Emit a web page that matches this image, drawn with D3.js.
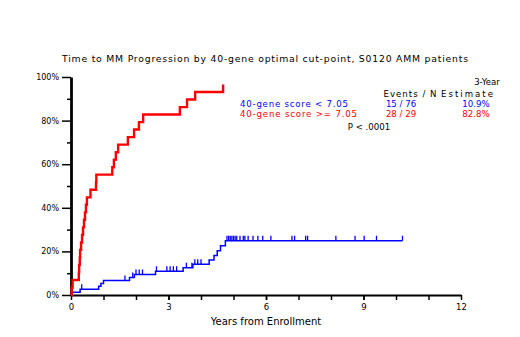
<!DOCTYPE html>
<html>
<head>
<meta charset="utf-8">
<script src="https://cdn.jsdelivr.net/npm/d3@7"></script>
<style>
  body { margin: 0; background: #fff; }
  text { font-family: "DejaVu Sans", sans-serif; }
</style>
</head>
<body>
<script>
const w = 520, h = 337;
const margin = { left: 71, right: 59, top: 77, bottom: 42 };

// cumulative progression steps: [years, percent]
const lowSteps = [[0.03, 1.3], [0.28, 2.6], [0.85, 4.0], [0.92, 5.3], [1.0, 6.6], [1.8, 8.0], [1.95, 9.4],
    [2.6, 10.9], [3.45, 12.5], [3.75, 14.1], [4.25, 16.0], [4.4, 18.1], [4.5, 20.3], [4.6, 22.6], [4.75, 24.9]];
const lowEnd = 10.2;
const lowCensor = [0.33, 1.66, 1.9, 2.0, 2.1, 2.2, 2.63, 2.95, 3.05, 3.15, 3.25, 3.55, 3.72, 3.81, 3.9, 4.0,
    4.8, 4.85, 4.9, 4.95, 5.0, 5.05, 5.1, 5.2, 5.3, 5.35, 5.45, 5.6, 5.75, 5.9, 6.15, 6.8, 6.88, 7.22, 7.28,
    8.15, 8.74, 9.02, 9.4, 10.2];

const highSteps = [[0.02, 3.45], [0.05, 6.9], [0.24, 10.3], [0.25, 13.8], [0.27, 17.2], [0.28, 20.7], [0.31, 24.1],
    [0.34, 27.6], [0.37, 31.0], [0.40, 34.5], [0.43, 37.9], [0.46, 41.4], [0.49, 44.8], [0.6, 48.3], [0.77, 51.7],
    [0.78, 55.2], [1.27, 58.6], [1.32, 62.1], [1.38, 65.5], [1.45, 69.0], [1.75, 72.4], [1.94, 75.9], [2.09, 79.3],
    [2.22, 82.8], [3.35, 86.2], [3.57, 89.7], [3.82, 93.1], [4.68, 96.6]];

const yTicks = [0, 20, 40, 60, 80, 100];
const xTicks = [0, 3, 6, 9, 12];

const legendRows = [
  { label: "40-gene score < 7.05", events: "15 / 76", est: "10.9%", color: "#0000ff", len: 108 },
  { label: "40-gene score >= 7.05", events: "28 / 29", est: "82.8%", color: "#ff0000", len: 117 }
];

const svg = d3.select("body").append("svg").attr("width", w).attr("height", h);

const x = d3.scaleLinear().domain([0, 12]).range([margin.left, w - margin.right]);
const y = d3.scaleLinear().domain([0, 100]).range([h - margin.bottom, margin.top]);

// title
svg.append("text")
  .attr("x", 265).attr("y", 62)
  .attr("text-anchor", "middle")
  .attr("font-size", 9.3)
  .attr("textLength", 406)
  .text("Time to MM Progression by 40-gene optimal cut-point, S0120 AMM patients");

// y axis: minor then major
svg.append("g").attr("transform", `translate(${margin.left},0)`)
  .call(d3.axisLeft(y).tickValues(d3.range(10, 100, 20)).tickSize(4).tickFormat(""))
  .call(g => g.select(".domain").remove())
  .call(g => g.selectAll("line").attr("stroke-width", 1.5));

const yAxis = svg.append("g").attr("transform", `translate(${margin.left},0)`)
  .call(d3.axisLeft(y).tickValues(yTicks).tickSize(9).tickPadding(3).tickSizeOuter(0).tickFormat(d => d + "%"));
yAxis.select(".domain").attr("stroke-width", 2.8);
yAxis.selectAll("line").attr("stroke-width", 1.5);
yAxis.selectAll("text").attr("font-size", 8).attr("font-family", "DejaVu Sans, sans-serif");

// x axis
svg.append("g").attr("transform", `translate(0,${y(0)})`)
  .call(d3.axisBottom(x).tickValues(d3.range(1, 12)).tickSize(5).tickFormat(""))
  .call(g => g.select(".domain").remove())
  .call(g => g.selectAll("line").attr("stroke-width", 1.5));

const xAxis = svg.append("g").attr("transform", `translate(0,${y(0)})`)
  .call(d3.axisBottom(x).tickValues(xTicks).tickSize(5).tickPadding(4).tickSizeOuter(0));
xAxis.select(".domain").attr("stroke-width", 2.2);
xAxis.selectAll("line").attr("stroke-width", 1.5);
xAxis.selectAll("text").attr("font-size", 8.5).attr("font-family", "DejaVu Sans, sans-serif");

svg.append("text")
  .attr("x", 266).attr("y", 325)
  .attr("text-anchor", "middle")
  .attr("font-size", 10)
  .text("Years from Enrollment");

// curves
const line = d3.line().x(d => x(d[0])).y(d => y(d[1])).curve(d3.curveStepAfter);

const lowPts = [[0, 0]].concat(lowSteps, [[lowEnd, lowSteps[lowSteps.length - 1][1]]]);
const highPts = [[0, 0]].concat(highSteps);

svg.append("path").datum(lowPts)
  .attr("d", line).attr("fill", "none").attr("stroke", "#0000ff").attr("stroke-width", 1.5);

svg.append("path").datum(highPts)
  .attr("d", line).attr("fill", "none").attr("stroke", "#ff0000").attr("stroke-width", 2.4);

const valueAt = (steps, t) => {
  let v = 0;
  steps.forEach(s => { if (s[0] <= t) v = s[1]; });
  return v;
};

svg.selectAll("line.censor").data(lowCensor).enter().append("line")
  .attr("class", "censor")
  .attr("x1", d => x(d)).attr("x2", d => x(d))
  .attr("y1", d => y(valueAt(lowSteps, d)))
  .attr("y2", d => y(valueAt(lowSteps, d)) - 5)
  .attr("stroke", "#0000ff").attr("stroke-width", 1.3);

// legend
const lg = svg.append("g").attr("font-size", 8.6);
lg.append("text").attr("x", 487).attr("y", 85).attr("text-anchor", "middle").text("3-Year");
lg.append("text").attr("x", 410).attr("y", 97).attr("text-anchor", "middle").attr("textLength", 53).text("Events / N");
lg.append("text").attr("x", 467).attr("y", 97).attr("text-anchor", "middle").attr("textLength", 52).text("Estimate");

legendRows.forEach((r, i) => {
  const yy = 107 + i * 10;
  lg.append("text").attr("x", 240).attr("y", yy).attr("fill", r.color).attr("textLength", r.len).text(r.label);
  lg.append("text").attr("x", 401).attr("y", yy).attr("text-anchor", "middle").attr("fill", r.color).text(r.events);
  lg.append("text").attr("x", 476).attr("y", yy).attr("text-anchor", "middle").attr("fill", r.color).text(r.est);
});
lg.append("text").attr("x", 369).attr("y", 130).attr("text-anchor", "middle").text("P < .0001");
</script>
</body>
</html>
